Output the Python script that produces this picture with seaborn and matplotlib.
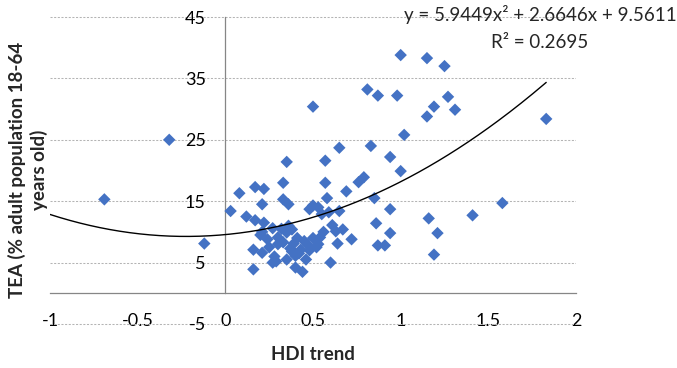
import numpy as np
import pandas as pd
import matplotlib
matplotlib.use("Agg")
import matplotlib.pyplot as plt
import seaborn as sns

# ---- data ----
hdi_trend = [
    -0.69, -0.32, -0.12, 0.03, 0.08, 0.12, 0.17, 0.17, 0.22, 0.21,
    0.16, 0.16, 0.21, 0.24, 0.21, 0.27, 0.29, 0.33, 0.35, 0.33,
    0.36, 0.35, 0.38, 0.30, 0.33, 0.39, 0.38, 0.40, 0.43, 0.40,
    0.44, 0.47, 0.48, 0.50, 0.53, 0.50, 0.55, 0.54, 0.52, 0.57,
    0.57, 0.58, 0.59, 0.61, 0.60, 0.63, 0.65, 0.65, 0.67, 0.64,
    0.69, 0.72, 0.76, 0.79, 0.81, 0.83, 0.85, 0.86, 0.87, 0.87,
    0.91, 0.94, 0.94, 0.94, 0.98, 1.00, 1.00, 1.02, 1.15, 1.15,
    1.16, 1.19, 1.21, 1.19, 1.25, 1.27, 1.31, 1.41, 1.58, 1.83,
    0.20, 0.25, 0.28, 0.30, 0.32, 0.36, 0.37, 0.41, 0.42, 0.45,
    0.48, 0.50, 0.53, 0.56, 0.46, 0.27, 0.22, 0.35,
]
tea = [
    15.3, 25.0, 8.1, 13.4, 16.3, 12.5, 17.3, 11.9, 17.0, 14.5,
    7.1, 3.9, 10.0, 8.8, 6.6, 5.0, 5.2, 18.0, 21.4, 15.3,
    14.5, 9.9, 10.4, 9.1, 8.3, 8.1, 6.8, 6.1, 7.1, 4.2,
    3.5, 7.9, 13.7, 14.3, 14.0, 30.4, 12.9, 9.1, 7.5, 21.6,
    18.0, 15.5, 13.2, 11.1, 5.0, 10.1, 23.7, 13.4, 10.4, 8.1,
    16.6, 8.8, 18.1, 18.9, 33.2, 24.0, 15.5, 11.4, 32.2, 7.8,
    7.8, 22.2, 13.7, 9.8, 32.2, 38.8, 19.9, 25.8, 28.8, 38.3,
    12.2, 30.4, 9.8, 6.3, 37.0, 32.0, 29.9, 12.7, 14.7, 28.4,
    9.5, 7.5, 6.0, 8.0, 10.5, 11.0, 7.3, 9.0, 6.5, 8.5,
    7.0, 9.0, 8.0, 10.0, 5.5, 10.6, 11.5, 5.5,
]
trend_coefs = [5.9449, 2.6646, 9.5611]   # y = a x^2 + b x + c
equation_text = "y = 5.9449x\u00b2 + 2.6646x + 9.5611"
r2_text = "R\u00b2 = 0.2695"
x_ticks = [-1, -0.5, 0, 0.5, 1, 1.5, 2]
x_tick_labels = ["-1", "-0.5", "0", "0.5", "1", "1.5", "2"]
y_ticks = [-5, 5, 15, 25, 35, 45]
y_tick_labels = ["-5", "5", "15", "25", "35", "45"]
x_title = "HDI trend"
y_title = "TEA (% adult population 18-64\nyears old)"

df = pd.DataFrame({"hdi": hdi_trend, "tea": tea})

sns.set_style("white")
plt.rcParams["font.family"] = ["Lato", "DejaVu Sans"]

W, H = 677, 368
fig = plt.figure(figsize=(W / 100, H / 100), dpi=100)
# plot area: x -1..2 -> 50..576 px ; y -5..45 -> 324..17 px
ylo, yhi = -5.3, 45.3
ppu = (324 - 17) / 50.0
top_px = 17 - (yhi - 45) * ppu
bot_px = 324 + (-5 - ylo) * ppu
ax = fig.add_axes([50 / W, 1 - bot_px / H, (576 - 50) / W, (bot_px - top_px) / H])

sns.scatterplot(data=df, x="hdi", y="tea", marker="D", s=40, color="#4472C4",
                edgecolor="none", linewidth=0, ax=ax, zorder=3)

xs = np.linspace(-1, max(hdi_trend), 300)
ax.plot(xs, np.polyval(trend_coefs, xs), color="black", lw=1.0, zorder=4)

ax.set_xlim(-1, 2)
ax.set_ylim(ylo, yhi)
ax.set_xticks(x_ticks)
ax.set_xticklabels(x_tick_labels)
ax.set_yticks(y_ticks)
ax.set_yticklabels(y_tick_labels)
ax.set_xlabel("")
ax.set_ylabel("")

ax.grid(axis="y", color="#b4b4b4", linestyle=(0, (2, 1.5)), linewidth=0.75)
ax.grid(axis="x", visible=False)
ax.set_axisbelow(True)

spc = "#868686"
for s in ["top", "right"]:
    ax.spines[s].set_visible(False)
ax.spines["left"].set_position(("data", 0))
ax.spines["bottom"].set_position(("data", 0))
ax.spines["left"].set_bounds(0, 45)
ax.spines["left"].set_color(spc)
ax.spines["bottom"].set_color(spc)
ax.spines["left"].set_linewidth(0.9)
ax.spines["bottom"].set_linewidth(0.9)

ax.tick_params(axis="x", direction="out", length=4.5, width=0.9, color=spc,
               pad=10, labelsize=13, labelcolor="black")
ax.tick_params(axis="y", length=0, pad=14, labelsize=13, labelcolor="black")

fig.text(313 / W, 1 - 355 / H, x_title, ha="center", va="center",
         fontsize=13.5, fontweight="bold")
fig.text(28 / W, 1 - 170 / H, y_title, ha="center", va="center", rotation=90,
         fontsize=13.5, fontweight="bold", multialignment="center", linespacing=1.25)
fig.text(540 / W, 1 - 15 / H, equation_text, ha="center", va="center", fontsize=13.5)
fig.text(540 / W, 1 - 42 / H, r2_text, ha="center", va="center", fontsize=13.5)

fig.savefig("out.png", dpi=100)
